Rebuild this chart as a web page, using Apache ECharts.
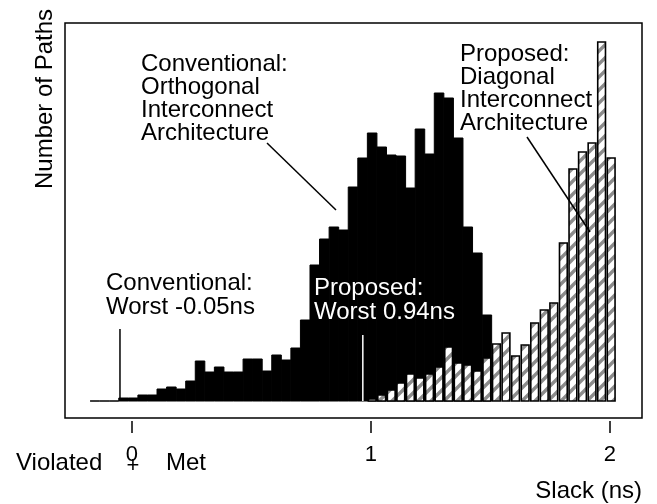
<!DOCTYPE html>
<html><head><meta charset="utf-8">
<script src="https://cdn.jsdelivr.net/npm/echarts@6/dist/echarts.min.js"></script>
<style>html,body{margin:0;padding:0;background:#fff}#chart{width:657px;height:504px}</style>
</head><body><div id="chart"></div>
<script>
// ---- data ----
const binWidth = 0.04; // ns
const conventionalBins = [-0.155,-0.115,-0.075,-0.035,0.005,0.045,0.085,0.125,0.165,0.205,0.245,0.285,0.325,0.365,0.405,0.445,0.485,0.525,0.565,0.605,0.645,0.685,0.725,0.765,0.805,0.845,0.885,0.925,0.965,1.005,1.045,1.085,1.125,1.165,1.205,1.245,1.285,1.325,1.365,1.405,1.445,1.485];
const conventionalCounts = [0,0,0,3,3,6,6,12,14,12,20,40,29,34,29,29,42,42,30,46,41,53,81,136,162,174,171,214,243,268,254,246,245,213,272,247,308,303,263,174,148,86];
const proposedBins = [1.005,1.045,1.085,1.125,1.165,1.205,1.245,1.285,1.325,1.365,1.405,1.445,1.485,1.525,1.565,1.605,1.645,1.685,1.725,1.765,1.805,1.845,1.885,1.925,1.965,2.005];
const proposedCounts = [2,6,11,18,27,23,27,34,54,38,36,30,43,57,68,45,56,78,91,98,158,232,249,258,359,243];
const xTicks = [0,1,2];
const conventionalWorst = [[-0.05,0],[-0.05,72]];
const proposedWorst = [[0.966,0],[0.966,66]];

const FONT = '"Liberation Sans", Arial, Helvetica, sans-serif';

function makeHatch(){
  const c = document.createElement('canvas'); c.width = 13; c.height = 13;
  const g = c.getContext('2d');
  g.fillStyle = '#fff'; g.fillRect(0,0,13,13);
  g.strokeStyle = '#8c8c8c'; g.lineWidth = 3.4;
  g.beginPath();
  g.moveTo(-2,15); g.lineTo(15,-2);
  g.moveTo(-2,2); g.lineTo(2,-2);
  g.moveTo(11,15); g.lineTo(15,11);
  g.stroke();
  return c;
}
const hatch = { image: makeHatch(), repeat: 'repeat' };

function pairs(xs, ys){ return xs.map((x,i)=>[x, ys[i]]); }

function renderSolid(params, api){
  const x = api.value(0), v = api.value(1);
  const p0 = api.coord([x - binWidth/2, 0]);
  const p1 = api.coord([x + binWidth/2, v]);
  return { type:'rect', shape:{ x:p0[0], y:p1[1], width:p1[0]-p0[0], height:p0[1]-p1[1] },
    style:{ fill:'#000', stroke:'#000', lineWidth:1 } };
}
function renderHatched(params, api){
  const x = api.value(0), v = api.value(1);
  const p0 = api.coord([x - binWidth/2, 0]);
  const p1 = api.coord([x + binWidth/2, v]);
  const w = p1[0]-p0[0];
  return { type:'rect', shape:{ x:p0[0]+0.9, y:p1[1], width:w-1.8, height:p0[1]-p1[1] },
    style:{ fill: hatch, stroke:'#000', lineWidth:1.6 } };
}

const chart = echarts.init(document.getElementById('chart'), null, {renderer:'canvas'});
const txt = (x, y, text, extra) => Object.assign({
  type:'text', x, y, z:100,
  style: Object.assign({ text, font:'24px ' + FONT, fill:'#000', verticalAlign:'top', lineHeight:23 }, extra || {})
});
chart.setOption({
  animation:false,
  grid:{ left:65, top:23, right:15, bottom:86, show:true, borderColor:'#000', borderWidth:1.5, outerBoundsMode:'none' },
  xAxis:{ type:'value', min:-0.28, max:2.134, offset:3,
    axisLine:{ show:false, onZero:false },
    axisTick:{ show:true, length:12, customValues:xTicks, lineStyle:{ color:'#000', width:1.5 } },
    axisLabel:{ show:true, customValues:xTicks, fontSize:22, color:'#000', fontFamily:FONT, margin:23 },
    splitLine:{ show:false } },
  yAxis:{ type:'value', min:-17, max:378, show:false },
  series:[
    { type:'custom', name:'Conventional', renderItem:renderSolid, data:pairs(conventionalBins, conventionalCounts), z:2, clip:true },
    { type:'custom', name:'Proposed', renderItem:renderHatched, data:pairs(proposedBins, proposedCounts), z:3, clip:true },
    { type:'line', data:conventionalWorst, symbol:'none', lineStyle:{ color:'#000', width:1.5 }, z:4 },
    { type:'line', data:proposedWorst, symbol:'none', lineStyle:{ color:'#fff', width:1.5 }, z:4 }
  ],
  graphic:[
    txt(141, 53, 'Conventional:\nOrthogonal\nInterconnect\nArchitecture'),
    txt(460, 43, 'Proposed:\nDiagonal\nInterconnect\nArchitecture'),
    txt(106, 271, 'Conventional:\nWorst -0.05ns', { lineHeight:24 }),
    txt(314, 276, 'Proposed:\nWorst 0.94ns', { lineHeight:24, fill:'#fff' }),
    { type:'line', z:100, shape:{ x1:267, y1:143, x2:336, y2:210 }, style:{ stroke:'#000', lineWidth:1.5 } },
    { type:'line', z:100, shape:{ x1:527, y1:137, x2:590, y2:232 }, style:{ stroke:'#000', lineWidth:1.5 } },
    { type:'text', z:100, x:45, y:99, rotation:Math.PI/2,
      style:{ text:'Number of Paths', font:'24px ' + FONT, fill:'#000', align:'center', verticalAlign:'middle' } },
    { type:'text', z:100, x:642, y:491,
      style:{ text:'Slack (ns)', font:'24px ' + FONT, fill:'#000', align:'right', verticalAlign:'middle' } },
    { type:'text', z:100, x:16, y:463,
      style:{ text:'Violated', font:'24px ' + FONT, fill:'#000', align:'left', verticalAlign:'middle' } },
    { type:'text', z:100, x:166, y:463,
      style:{ text:'Met', font:'24px ' + FONT, fill:'#000', align:'left', verticalAlign:'middle' } },
    { type:'text', z:100, x:133, y:466,
      style:{ text:'+', font:'22px ' + FONT, fill:'#000', align:'center', verticalAlign:'middle' } }
  ]
});
</script></body></html>
